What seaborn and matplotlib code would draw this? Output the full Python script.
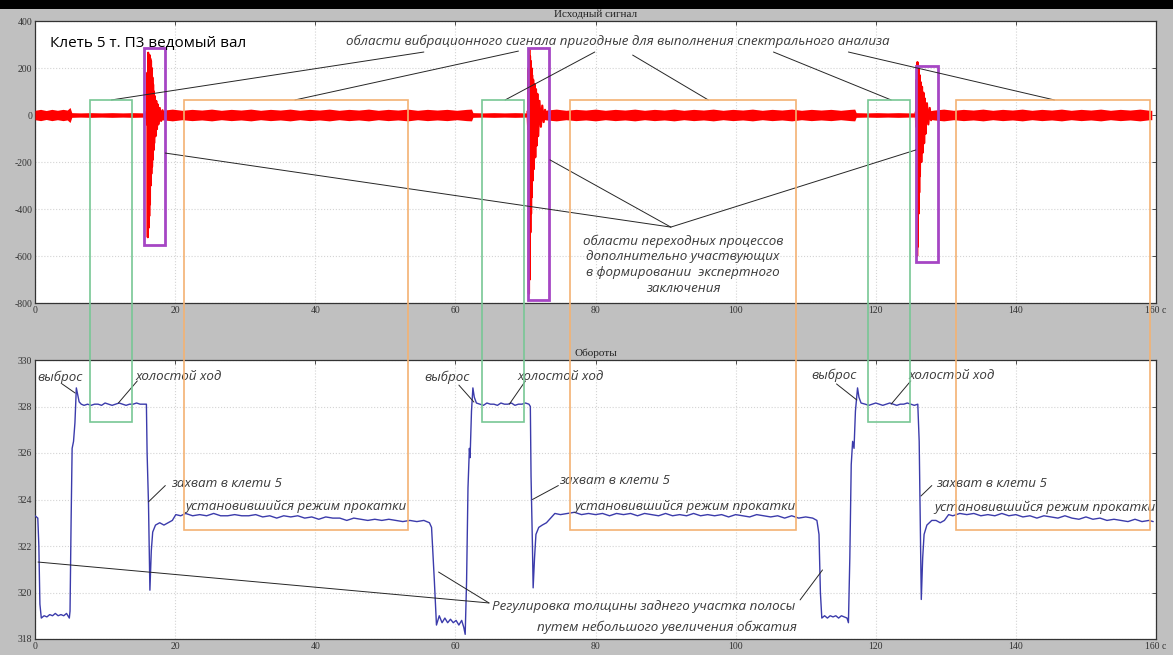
import matplotlib
matplotlib.use("Agg")
import matplotlib.pyplot as plt
import seaborn as sns
import pandas as pd
from matplotlib.patches import Rectangle

# ---------------- data ----------------
time_ticks = [0, 20, 40, 60, 80, 100, 120, 140, 160]
time_tick_labels = ["0", "20", "40", "60", "80", "100", "120", "140", "160 c"]
signal_ticks = [-800, -600, -400, -200, 0, 200, 400]
rpm_ticks = [318, 320, 322, 324, 326, 328, 330]

# steady vibration band: (time, half-amplitude)
vib_envelope = [
    (0.0, 20), (0.8, 24), (1.6, 19), (2.4, 24), (3.2, 20), (4.0, 24), (4.6, 21), (5.0, 32),
    (5.25, 10), (6.5, 9), (8.0, 10), (9.5, 9), (11.0, 10), (12.5, 9), (14.0, 10), (15.6, 9), (15.9, 22),
    (18.4, 21), (19.6, 25), (21.0, 20), (22.4, 24), (23.8, 21), (25.2, 25), (26.6, 20), (28.0, 24),
    (29.4, 21), (30.8, 25), (32.2, 20), (33.6, 24), (35.0, 21), (36.4, 25), (37.8, 20), (39.2, 24),
    (40.6, 21), (42.0, 25), (43.4, 20), (44.8, 24), (46.2, 21), (47.6, 25), (49.0, 20), (50.4, 24),
    (51.8, 21), (53.2, 25), (54.6, 20), (56.0, 24), (57.4, 21), (58.8, 24), (60.2, 20), (61.6, 24),
    (62.3, 25), (62.5, 10), (64.0, 9), (65.5, 10), (67.0, 9), (68.5, 10), (70.2, 9),
    (73.0, 21), (74.4, 25), (75.8, 20), (77.2, 24), (78.6, 21), (80.0, 25), (81.4, 20), (82.8, 24),
    (84.2, 21), (85.6, 25), (87.0, 20), (88.4, 24), (89.8, 21), (91.2, 25), (92.6, 20), (94.0, 24),
    (95.4, 21), (96.8, 25), (98.2, 20), (99.6, 24), (101.0, 21), (102.4, 25), (103.8, 20), (105.2, 24),
    (106.6, 21), (108.0, 25), (109.4, 20), (110.8, 24), (112.2, 21), (113.6, 24), (115.0, 20), (116.4, 24),
    (117.0, 25), (117.2, 10), (118.7, 9), (120.2, 10), (121.7, 9), (123.2, 10), (124.7, 9), (125.8, 9),
    (128.3, 21), (129.7, 25), (131.1, 20), (132.5, 24), (133.9, 21), (135.3, 25), (136.7, 20), (138.1, 24),
    (139.5, 21), (140.9, 25), (142.3, 20), (143.7, 24), (145.1, 21), (146.5, 25), (147.9, 20), (149.3, 24),
    (150.7, 21), (152.1, 25), (153.5, 20), (154.9, 24), (156.3, 21), (157.7, 25), (159.1, 20), (159.4, 20),
]

# transient bursts of the raw signal: (time, value)
burst_1 = [
    (15.9, 15), (16.0, -40), (16.05, 180), (16.1, -520), (16.15, 265), (16.2, -480), (16.25, 250),
    (16.3, -430), (16.35, 255), (16.4, -380), (16.45, 240), (16.5, -300), (16.55, 230), (16.6, -250),
    (16.65, 200), (16.7, -220), (16.75, 160), (16.8, -190), (16.85, 130), (16.9, -150), (16.95, 100),
    (17.0, -120), (17.1, 80), (17.2, -90), (17.3, 60), (17.4, -60), (17.5, 45), (17.6, -40),
    (17.8, 30), (18.0, -25), (18.2, 20),
]
burst_2 = [
    (70.3, 15), (70.4, -60), (70.45, 200), (70.5, -760), (70.55, 280), (70.6, -700), (70.65, 250),
    (70.7, -500), (70.75, 230), (70.8, -420), (70.85, 200), (70.9, -350), (70.95, 170), (71.0, -280),
    (71.1, 150), (71.2, -230), (71.3, 130), (71.4, -180), (71.5, 110), (71.6, -130), (71.7, 90),
    (71.8, -90), (72.0, 60), (72.2, -50), (72.4, 40), (72.6, -30), (72.8, 22),
]
burst_3 = [
    (125.7, 12), (125.8, -50), (125.85, 150), (125.9, -600), (125.95, 225), (126.0, -560),
    (126.05, 210), (126.1, -420), (126.15, 200), (126.2, -330), (126.25, 170), (126.3, -260),
    (126.4, 140), (126.5, -200), (126.6, 120), (126.7, -160), (126.8, 95), (126.9, -120),
    (127.0, 70), (127.1, -80), (127.3, 50), (127.5, -40), (127.7, 30), (127.9, -22),
]

# shaft speed: (time, rpm)
rpm_points = [
    (0.0, 323.3), (0.4, 323.2), (0.55, 322.0), (0.7, 319.5), (0.9, 318.9), (1.3, 319.0), (1.7, 318.95),
    (2.1, 319.05), (2.5, 319.0), (2.9, 319.1), (3.3, 319.0), (3.7, 319.05), (4.1, 319.0), (4.5, 319.1),
    (4.9, 318.9), (5.0, 319.2), (5.15, 323.0), (5.3, 326.2), (5.5, 326.5), (5.7, 327.3), (5.9, 328.8),
    (6.1, 328.5), (6.3, 328.2), (6.6, 328.1), (7.0, 328.05), (7.5, 328.1), (8.0, 328.05), (8.5, 328.1),
    (9.0, 328.1), (9.5, 328.05), (10.0, 328.15), (10.5, 328.1), (11.0, 328.05), (11.5, 328.1),
    (12.0, 328.15), (12.5, 328.1), (13.0, 328.05), (13.5, 328.1), (14.0, 328.1), (14.5, 328.15),
    (15.0, 328.1), (15.5, 328.1), (15.9, 328.1), (16.0, 326.0), (16.2, 323.8), (16.4, 320.1),
    (16.6, 321.8), (16.8, 322.6), (17.2, 322.9), (17.8, 323.0), (18.4, 322.9), (19.0, 323.0),
    (19.6, 323.1), (20.1, 323.35), (20.8, 323.3), (21.5, 323.4), (22.5, 323.3), (23.5, 323.35),
    (24.5, 323.3), (25.5, 323.4), (26.5, 323.3), (27.5, 323.3), (28.5, 323.35), (29.5, 323.3),
    (30.5, 323.3), (31.5, 323.35), (32.5, 323.25), (33.5, 323.3), (34.5, 323.2), (35.5, 323.3),
    (36.5, 323.25), (37.5, 323.3), (38.5, 323.2), (39.5, 323.25), (40.5, 323.15), (41.5, 323.25),
    (42.5, 323.2), (43.5, 323.2), (44.5, 323.1), (45.5, 323.2), (46.5, 323.15), (47.5, 323.1),
    (48.5, 323.15), (49.5, 323.1), (50.5, 323.15), (51.5, 323.1), (52.5, 323.05), (53.5, 323.1),
    (54.5, 323.05), (55.5, 323.1), (56.3, 323.0), (56.6, 322.8), (57.0, 320.5), (57.3, 318.6),
    (57.7, 319.0), (58.1, 318.7), (58.5, 318.9), (58.9, 318.7), (59.3, 318.85), (59.7, 318.7),
    (60.1, 318.8), (60.5, 318.6), (60.9, 318.8), (61.2, 318.5), (61.4, 318.2), (61.6, 320.5),
    (61.8, 324.5), (62.0, 326.2), (62.1, 325.8), (62.3, 327.8), (62.5, 328.8), (62.7, 328.4),
    (63.0, 328.15), (63.5, 328.1), (64.0, 328.05), (64.5, 328.15), (65.0, 328.1), (65.5, 328.1),
    (66.0, 328.05), (66.5, 328.15), (67.0, 328.1), (67.5, 328.1), (68.0, 328.15), (68.5, 328.05),
    (69.0, 328.1), (69.5, 328.1), (70.0, 328.15), (70.5, 328.1), (70.7, 328.0), (70.8, 325.0),
    (71.0, 322.0), (71.1, 320.2), (71.3, 321.5), (71.5, 322.5), (71.9, 322.8), (72.4, 322.9),
    (73.0, 323.0), (73.6, 323.2), (74.2, 323.4), (75.0, 323.35), (76.0, 323.4), (77.0, 323.45),
    (78.0, 323.35), (79.0, 323.4), (80.0, 323.35), (81.0, 323.4), (82.0, 323.3), (83.0, 323.4),
    (84.0, 323.35), (85.0, 323.4), (86.0, 323.3), (87.0, 323.4), (88.0, 323.35), (89.0, 323.3),
    (90.0, 323.4), (91.0, 323.3), (92.0, 323.35), (93.0, 323.3), (94.0, 323.4), (95.0, 323.3),
    (96.0, 323.35), (97.0, 323.3), (98.0, 323.35), (99.0, 323.25), (100.0, 323.35), (101.0, 323.3),
    (102.0, 323.25), (103.0, 323.35), (104.0, 323.3), (105.0, 323.25), (106.0, 323.3), (107.0, 323.2),
    (108.0, 323.3), (109.0, 323.2), (110.0, 323.25), (111.0, 323.2), (111.6, 323.1), (111.9, 322.5),
    (112.1, 320.0), (112.3, 318.9), (112.7, 319.0), (113.1, 318.9), (113.5, 319.0), (113.9, 318.95),
    (114.3, 319.0), (114.7, 318.9), (115.1, 319.0), (115.5, 318.95), (115.9, 318.9), (116.1, 318.7),
    (116.3, 321.5), (116.5, 325.5), (116.7, 326.5), (116.9, 326.2), (117.1, 327.8), (117.4, 328.8),
    (117.6, 328.4), (117.9, 328.15), (118.5, 328.1), (119.0, 328.05), (119.5, 328.1), (120.0, 328.15),
    (120.5, 328.1), (121.0, 328.05), (121.5, 328.1), (122.0, 328.15), (122.5, 328.1), (123.0, 328.05),
    (123.5, 328.1), (124.0, 328.1), (124.5, 328.15), (125.0, 328.1), (125.5, 328.05), (126.0, 328.1),
    (126.2, 326.5), (126.4, 322.0), (126.5, 319.7), (126.7, 321.5), (126.9, 322.5), (127.3, 322.9),
    (128.0, 323.1), (128.6, 323.1), (129.2, 323.0), (129.8, 323.1), (130.4, 323.35), (131.0, 323.3),
    (132.0, 323.4), (133.0, 323.35), (134.0, 323.4), (135.0, 323.3), (136.0, 323.35), (137.0, 323.3),
    (138.0, 323.4), (139.0, 323.3), (140.0, 323.35), (141.0, 323.25), (142.0, 323.3), (143.0, 323.2),
    (144.0, 323.3), (145.0, 323.25), (146.0, 323.2), (147.0, 323.3), (148.0, 323.2), (149.0, 323.15),
    (150.0, 323.25), (151.0, 323.15), (152.0, 323.2), (153.0, 323.1), (154.0, 323.15), (155.0, 323.1),
    (156.0, 323.05), (157.0, 323.15), (158.0, 323.05), (159.0, 323.1), (159.6, 323.05),
]

# marked regions (time ranges)
idle_regions = [(7.9, 13.9), (63.8, 69.8), (118.9, 124.9)]
rolling_regions = [(21.2, 53.2), (76.4, 108.6), (131.4, 159.1)]
region_top_signal = 65
idle_bottom_rpm = 327.35
rolling_bottom_rpm = 322.7
transient_regions = [(15.5, 18.6, 285, -553), (70.3, 73.4, 285, -787), (125.7, 128.9, 208, -625)]

# ---------------- style ----------------
sns.set_theme(style="whitegrid")
plt.rcParams["font.family"] = ["Liberation Serif", "DejaVu Serif"]
plt.rcParams["axes.unicode_minus"] = False

W, H = 1173, 655
fig = plt.figure(figsize=(W / 100, H / 100), dpi=100, facecolor="#c0c0c0")
ax1 = fig.add_axes([35 / W, 1 - 303 / H, 1121 / W, 282 / H])
ax2 = fig.add_axes([35 / W, 1 - 639 / H, 1121 / W, 279 / H])

ANN = ["Open Sans", "DejaVu Sans"]
TXT = "#3a3a3a"
LINE = "#262626"

# black strip on top of the picture
fig.add_artist(Rectangle((0, 1 - 9 / H), 1, 9 / H, transform=fig.transFigure,
                         facecolor="black", edgecolor="none", zorder=5))

# ---------------- top panel ----------------
env = pd.DataFrame(vib_envelope, columns=["t", "a"])
ax1.fill_between(env["t"], -env["a"], env["a"], color="#ff0000", lw=0, zorder=3)
for b in (burst_1, burst_2, burst_3):
    bd = pd.DataFrame(b, columns=["t", "v"])
    sns.lineplot(data=bd, x="t", y="v", ax=ax1, color="#ff0000", lw=1.6,
                 sort=False, estimator=None, zorder=3)

ax1.set_xlim(0, 160)
ax1.set_ylim(-800, 400)
ax1.set_yticks(signal_ticks)
ax1.set_yticklabels([str(v) for v in signal_ticks])
ax1.set_title("Исходный сигнал", fontsize=8, pad=3, color="#222222")

# ---------------- bottom panel ----------------
rpm = pd.DataFrame(rpm_points, columns=["t", "rpm"])
sns.lineplot(data=rpm, x="t", y="rpm", ax=ax2, color="#3b3bab", lw=1.0,
             sort=False, estimator=None, zorder=3)
ax2.set_xlim(0, 160)
ax2.set_ylim(318, 330)
ax2.set_yticks(rpm_ticks)
ax2.set_yticklabels([str(v) for v in rpm_ticks])
ax2.set_title("Обороты", fontsize=8, pad=3, color="#222222")

for ax in (ax1, ax2):
    ax.set_facecolor("white")
    ax.set_xlabel("")
    ax.set_ylabel("")
    ax.set_xticks(time_ticks)
    ax.set_xticklabels(time_tick_labels)
    ax.grid(True, color="#d4d4d4", linestyle=":", linewidth=0.8)
    ax.tick_params(direction="in", length=3, width=0.6, colors="#333333",
                   labelsize=7, top=True, right=True, pad=2)
    for s in ax.spines.values():
        s.set_color("#333333")
        s.set_linewidth(0.9)

# ---------------- region boxes spanning both panels ----------------
inv = fig.transFigure.inverted()


def fig_xy(ax, x, y):
    return inv.transform(ax.transData.transform((x, y)))


for (x0, x1), bottom, col in [(r, idle_bottom_rpm, "#78c795") for r in idle_regions] + \
        [(r, rolling_bottom_rpm, "#f3b273") for r in rolling_regions]:
    tl = fig_xy(ax1, x0, region_top_signal)
    br = fig_xy(ax2, x1, bottom)
    fig.add_artist(Rectangle((tl[0], br[1]), br[0] - tl[0], tl[1] - br[1],
                             transform=fig.transFigure, fill=False,
                             edgecolor=col, lw=1.2, zorder=4))

for x0, x1, ytop, ybot in transient_regions:
    ax1.add_patch(Rectangle((x0, ybot), x1 - x0, ytop - ybot, fill=False,
                            edgecolor="#a646c4", lw=2.0, zorder=5))

# ---------------- annotations: top panel ----------------
ax1.text(2.15, 306, "Клеть 5 т. П3 ведомый вал", fontsize=11, family=ANN,
         color="black", ha="left", va="center", zorder=6)
ax1.text(83.2, 315, "области вибрационного сигнала пригодные для выполнения спектрального анализа",
         fontsize=9.6, family=ANN, style="italic", color=TXT, ha="center", va="center", zorder=6)
top_lines = [((55.5, 268), (10.9, 64)), ((69.0, 272), (37.1, 64)), ((79.9, 268), (67.1, 64)),
             ((85.3, 255), (96.1, 64)), ((105.4, 268), (122.2, 64)), ((116.1, 268), (145.5, 64))]
for (xa, ya), (xb, yb) in top_lines:
    ax1.plot([xa, xb], [ya, yb], color=LINE, lw=0.7, zorder=6)

hub = (90.75, -477)
for xb, yb in [(18.6, -162), (73.5, -191), (125.7, -149)]:
    ax1.plot([hub[0], xb], [hub[1], yb], color=LINE, lw=0.7, zorder=6)
for txt, y in [("области переходных процессов", -536), ("дополнительно участвующих", -604),
               ("в формировании  экспертного", -672), ("заключения", -740)]:
    ax1.text(92.5, y, txt, fontsize=9.6, family=ANN, style="italic", color=TXT,
             ha="center", va="center", zorder=6)

# ---------------- annotations: bottom panel ----------------
labels_bottom = [
    ("выброс", 0.3, 329.27), ("холостой ход", 14.3, 329.27),
    ("выброс", 55.6, 329.27), ("холостой ход", 68.8, 329.27),
    ("выброс", 110.8, 329.35), ("холостой ход", 124.7, 329.35),
    ("захват в клети 5", 19.35, 324.67), ("захват в клети 5", 74.8, 324.8),
    ("захват в клети 5", 128.6, 324.7),
    ("установившийся режим прокатки", 21.5, 323.68),
    ("установившийся режим прокатки", 77.0, 323.68),
    ("установившийся режим прокатки", 128.4, 323.64),
    ("Регулировка толщины заднего участка полосы", 65.2, 319.38),
    ("путем небольшого увеличения обжатия", 71.7, 318.52),
]
for txt, x, y in labels_bottom:
    ax2.text(x, y, txt, fontsize=9.6, family=ANN, style="italic", color=TXT,
             ha="left", va="center", zorder=6)

bottom_lines = [
    ((3.87, 328.97), (5.73, 328.58)), ((14.6, 329.1), (11.9, 328.15)),
    ((60.5, 328.92), (62.65, 328.19)), ((70.0, 329.1), (67.7, 328.1)),
    ((114.4, 328.97), (117.3, 328.28)), ((125.0, 329.1), (122.2, 328.1)),
    ((18.6, 324.6), (16.2, 323.9)), ((74.7, 324.6), (71.0, 324.0)),
    ((128.0, 324.6), (126.45, 324.15)),
    ((0.43, 321.31), (64.8, 319.55)), ((57.6, 320.88), (64.8, 319.55)),
    ((109.2, 319.68), (112.4, 320.97)),
]
for (xa, ya), (xb, yb) in bottom_lines:
    ax2.plot([xa, xb], [ya, yb], color=LINE, lw=0.7, zorder=6)

fig.savefig("out.png", dpi=100, facecolor=fig.get_facecolor())
